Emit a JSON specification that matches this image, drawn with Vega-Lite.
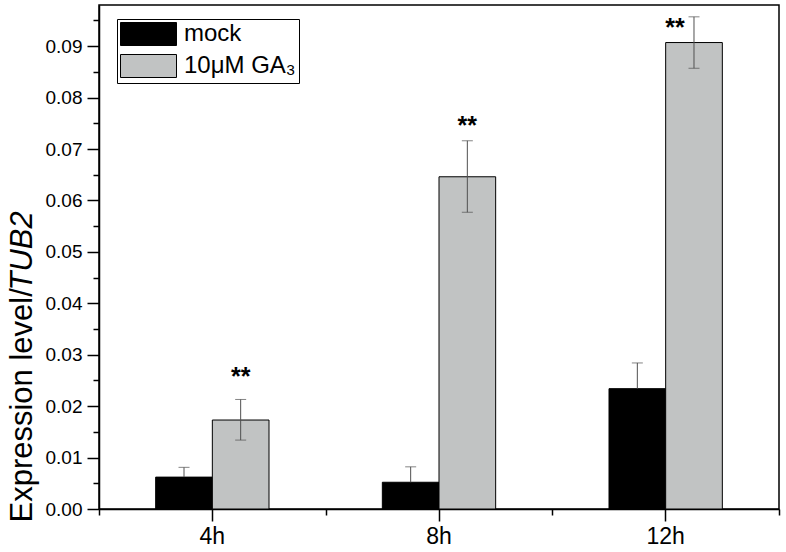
{
  "$schema": "https://vega.github.io/schema/vega-lite/v6.json",
  "width": 680,
  "height": 504,
  "autosize": {"type": "none"},
  "padding": {"left": 99, "top": 5, "right": 7, "bottom": 43},
  "background": "white",
  "config": {
    "font": "Liberation Sans",
    "view": {"stroke": "black", "strokeWidth": 1.5},
    "legend": {"strokeColor": "black"},
    "axis": {"domainColor": "black", "domainWidth": 1.5, "tickColor": "black", "tickWidth": 1.5, "labelColor": "black", "grid": false, "labelFont": "Liberation Sans", "titleFont": "Liberation Sans", "titleFontWeight": "normal", "titleColor": "black"}
  },
  "datasets": {
    "bars": [
      {"time": "4h", "group": "mock", "value": 0.0062, "low": 0.0062, "high": 0.0081},
      {"time": "4h", "group": "10μM GA₃", "value": 0.0173, "low": 0.0134, "high": 0.0213},
      {"time": "8h", "group": "mock", "value": 0.0052, "low": 0.0052, "high": 0.0082},
      {"time": "8h", "group": "10μM GA₃", "value": 0.0646, "low": 0.0577, "high": 0.0716},
      {"time": "12h", "group": "mock", "value": 0.0234, "low": 0.0234, "high": 0.0284},
      {"time": "12h", "group": "10μM GA₃", "value": 0.0907, "low": 0.0857, "high": 0.0957}
    ],
    "stars": [
      {"time": "4h", "pos": 0.0266, "label": "**"},
      {"time": "8h", "pos": 0.0755, "label": "**"},
      {"time": "12h", "pos": 0.0945, "label": "**"}
    ]
  },
  "layer": [
    {
      "data": {"name": "bars"},
      "mark": {"type": "bar", "stroke": "black", "strokeWidth": 1},
      "encoding": {
        "x": {"field": "time", "type": "nominal", "sort": ["4h", "8h", "12h"], "scale": {"paddingInner": 0, "paddingOuter": 0},
              "axis": {"title": null, "labelAngle": 0, "labelFontSize": 23, "tickSize": 12, "labelPadding": 4, "orient": "bottom"}},
        "xOffset": {"field": "group", "type": "nominal", "sort": ["mock", "10μM GA₃"], "scale": {"paddingInner": 0, "paddingOuter": 1}},
        "y": {"field": "value", "type": "quantitative", "scale": {"domain": [0, 0.098], "nice": false},
              "axis": {"values": [0, 0.01, 0.02, 0.03, 0.04, 0.05, 0.06, 0.07, 0.08, 0.09], "format": ".2f", "labelFontSize": 19, "tickSize": 12, "labelPadding": 5, "orient": "left",
                       "title": "Expression level/", "titleFontSize": 31, "titleAngle": 270, "titleAlign": "left", "titleBaseline": "alphabetic", "titleX": -68, "titleY": 517}},
        "fill": {"field": "group", "type": "nominal", "sort": ["mock", "10μM GA₃"],
                 "scale": {"domain": ["mock", "10μM GA₃"], "range": ["#000000", "#c1c3c3"]},
                 "legend": {"title": null, "orient": "none", "legendX": 18, "legendY": 14, "symbolType": "M-1,-1H3.87V1H-1Z", "symbolSize": 529, "symbolStrokeColor": "black", "symbolStrokeWidth": 1, "labelFontSize": 24, "labelOffset": 40, "strokeColor": "black", "fillColor": "white", "padding": 3, "rowPadding": 4, "labelColor": "black", "labelFont": "Liberation Sans", "labelLimit": 300, "symbolOpacity": 1}}
      }
    },
    {
      "data": {"name": "bars"},
      "transform": [{"filter": "datum.group == 'mock'"}],
      "mark": {"type": "rule", "color": "#505050", "strokeWidth": 1, "xOffset": -28.33},
      "encoding": {
        "x": {"field": "time", "type": "nominal", "sort": ["4h", "8h", "12h"], "axis": null},
        "y": {"field": "low", "type": "quantitative", "scale": {"domain": [0, 0.098], "nice": false}, "axis": null},
        "y2": {"field": "high"}
      }
    },
    {
      "data": {"name": "bars"},
      "transform": [{"filter": "datum.group == 'mock'"}],
      "mark": {"type": "tick", "color": "#505050", "thickness": 1, "size": 11, "orient": "horizontal", "xOffset": -28.33},
      "encoding": {
        "x": {"field": "time", "type": "nominal", "sort": ["4h", "8h", "12h"], "axis": null},
        "y": {"field": "high", "type": "quantitative", "scale": {"domain": [0, 0.098], "nice": false}, "axis": null}
      }
    },
    {
      "data": {"name": "bars"},
      "transform": [{"filter": "datum.group != 'mock'"}],
      "mark": {"type": "rule", "color": "#505050", "strokeWidth": 1, "xOffset": 28.33},
      "encoding": {
        "x": {"field": "time", "type": "nominal", "sort": ["4h", "8h", "12h"],
              "axis": {"title": null, "labels": false, "domain": false, "tickBand": "extent", "tickSize": 6, "orient": "bottom"}},
        "y": {"field": "low", "type": "quantitative", "scale": {"domain": [0, 0.098], "nice": false},
              "axis": {"values": [0.005, 0.015, 0.025, 0.035, 0.045, 0.055, 0.065, 0.075, 0.085, 0.095], "labels": false, "domain": false, "tickSize": 6, "orient": "left",
                       "title": "TUB2", "titleFontStyle": "italic", "titleFontSize": 31, "titleAngle": 270, "titleAlign": "left", "titleBaseline": "alphabetic", "titleX": -68, "titleY": 285}},
        "y2": {"field": "high"}
      }
    },
    {
      "data": {"name": "bars"},
      "transform": [{"filter": "datum.group != 'mock'"}],
      "mark": {"type": "tick", "color": "#505050", "thickness": 1, "size": 11, "orient": "horizontal", "xOffset": 28.33},
      "encoding": {
        "x": {"field": "time", "type": "nominal", "sort": ["4h", "8h", "12h"], "axis": null},
        "y": {"field": "high", "type": "quantitative", "scale": {"domain": [0, 0.098], "nice": false}, "axis": null}
      }
    },
    {
      "data": {"name": "bars"},
      "transform": [{"filter": "datum.group != 'mock'"}],
      "mark": {"type": "tick", "color": "#505050", "thickness": 1, "size": 11, "orient": "horizontal", "xOffset": 28.33},
      "encoding": {
        "x": {"field": "time", "type": "nominal", "sort": ["4h", "8h", "12h"], "axis": null},
        "y": {"field": "low", "type": "quantitative", "scale": {"domain": [0, 0.098], "nice": false}, "axis": null}
      }
    },
    {
      "data": {"name": "stars"},
      "transform": [{"filter": "datum.time != '12h'"}],
      "mark": {"type": "text", "fontSize": 25, "fontWeight": "bold", "baseline": "middle", "color": "black", "dy": 5, "xOffset": 28.33},
      "encoding": {
        "x": {"field": "time", "type": "nominal", "sort": ["4h", "8h", "12h"], "axis": null},
        "y": {"field": "pos", "type": "quantitative", "scale": {"domain": [0, 0.098], "nice": false}, "axis": null},
        "text": {"field": "label"}
      }
    },
    {
      "data": {"name": "stars"},
      "transform": [{"filter": "datum.time == '12h'"}],
      "mark": {"type": "text", "fontSize": 25, "fontWeight": "bold", "baseline": "middle", "color": "black", "dy": 5, "xOffset": 9.33},
      "encoding": {
        "x": {"field": "time", "type": "nominal", "sort": ["4h", "8h", "12h"], "axis": null},
        "y": {"field": "pos", "type": "quantitative", "scale": {"domain": [0, 0.098], "nice": false}, "axis": null},
        "text": {"field": "label"}
      }
    }
  ],
  "resolve": {"axis": {"x": "independent", "y": "independent"}}
}
